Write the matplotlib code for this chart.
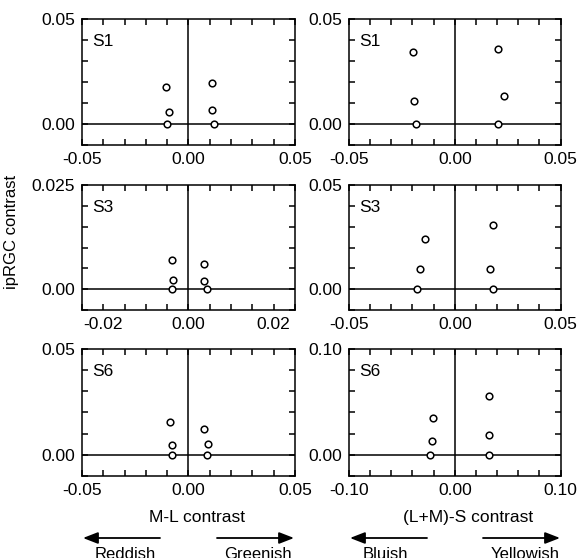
import numpy as np
import matplotlib
matplotlib.use('Agg')
import matplotlib.pyplot as plt
from matplotlib.patches import FancyArrowPatch

plt.rcParams['font.family'] = ['Liberation Sans', 'DejaVu Sans']

# Observers shown in each row
observers = ['S1', 'S3', 'S6']

# M-L contrast (left column) and ipRGC contrast, per observer
ml_x = [
    [-0.0104, -0.0091, -0.0099, 0.0110, 0.0110, 0.0118],
    [-0.0039, -0.0037, -0.0039, 0.0037, 0.0036, 0.0043],
    [-0.0088, -0.0075, -0.0075, 0.0071, 0.0091, 0.0085],
]
ml_y = [
    [0.0178, 0.0056, 0.0, 0.0197, 0.0068, 0.0],
    [0.0069, 0.0022, 0.0, 0.0061, 0.0020, 0.0],
    [0.0153, 0.0046, 0.0, 0.0124, 0.0053, 0.0],
]

# (L+M)-S contrast (right column) and ipRGC contrast, per observer
s_x = [
    [-0.0196, -0.0191, -0.0183, 0.0206, 0.0231, 0.0206],
    [-0.0141, -0.0163, -0.0180, 0.0179, 0.0166, 0.0179],
    [-0.0203, -0.0212, -0.0234, 0.0325, 0.0325, 0.0325],
]
s_y = [
    [0.0341, 0.0111, 0.0, 0.0359, 0.0133, 0.0],
    [0.0241, 0.0095, 0.0, 0.0310, 0.0095, 0.0],
    [0.0349, 0.0129, 0.0, 0.0560, 0.0189, 0.0],
]

# axis ranges: (lo, hi, tick step) ; labels only at listed values
ml_xlim = [(-0.05, 0.05, 0.01), (-0.025, 0.025, 0.005), (-0.05, 0.05, 0.01)]
ml_ylim = [(-0.01, 0.05, 0.01), (-0.005, 0.025, 0.005), (-0.01, 0.05, 0.01)]
ml_xlab = [[-0.05, 0.0, 0.05], [-0.02, 0.0, 0.02], [-0.05, 0.0, 0.05]]
ml_ylab = [[0.0, 0.05], [0.0, 0.025], [0.0, 0.05]]

s_xlim = [(-0.05, 0.05, 0.01), (-0.05, 0.05, 0.01), (-0.1, 0.1, 0.02)]
s_ylim = [(-0.01, 0.05, 0.01), (-0.01, 0.05, 0.01), (-0.02, 0.10, 0.02)]
s_xlab = [[-0.05, 0.0, 0.05], [-0.05, 0.0, 0.05], [-0.1, 0.0, 0.1]]
s_ylab = [[0.0, 0.05], [0.0, 0.05], [0.0, 0.10]]

# direction words under each x axis
dir_left = ['Reddish', 'Bluish']
dir_right = ['Greenish', 'Yellowish']


def fmt(v):
    if abs(v - round(v, 2)) > 1e-9:
        return '%.3f' % v
    return '%.2f' % v


def setup(ax, xlim, ylim, xlab, ylab):
    x0, x1, xs = xlim
    y0, y1, ys = ylim
    ax.set_xlim(x0, x1)
    ax.set_ylim(y0, y1)
    xt = np.round(np.arange(x0, x1 + xs / 2, xs), 4)
    yt = np.round(np.arange(y0, y1 + ys / 2, ys), 4)
    ax.set_xticks(xt)
    ax.set_yticks(yt)
    ax.set_xticklabels([fmt(t) if np.any(np.isclose(t, xlab)) else '' for t in xt])
    ax.set_yticklabels([fmt(t) if np.any(np.isclose(t, ylab)) else '' for t in yt])
    ax.tick_params(direction='in', top=True, right=True, length=4, width=1.1,
                   labelsize=12.5, pad=5)
    for sp in ax.spines.values():
        sp.set_linewidth(1.1)
    ax.axhline(0, color='black', lw=1.1, zorder=1)
    ax.axvline(0, color='black', lw=1.1, zorder=1)


fig = plt.figure(figsize=(5.88, 5.58), dpi=100)

left_x, right_x, w = 0.1395, 0.5935, 0.360
rows = [(0.740, 0.226), (0.4444, 0.224), (0.147, 0.2276)]

for i, (b, h) in enumerate(rows):
    axl = fig.add_axes([left_x, b, 0.362, h])
    setup(axl, ml_xlim[i], ml_ylim[i], ml_xlab[i], ml_ylab[i])
    axl.plot(ml_x[i], ml_y[i], 'o', mfc='white', mec='black', mew=1.1, ms=4.8, zorder=3)
    axl.text(0.05, 0.88, observers[i], transform=axl.transAxes, fontsize=12.5, va='top')

    axr = fig.add_axes([right_x, b, w, h])
    setup(axr, s_xlim[i], s_ylim[i], s_xlab[i], s_ylab[i])
    axr.plot(s_x[i], s_y[i], 'o', mfc='white', mec='black', mew=1.1, ms=4.8, zorder=3)
    axr.text(0.05, 0.88, observers[i], transform=axr.transAxes, fontsize=12.5, va='top')

fig.text(0.019, 0.585, 'ipRGC contrast', rotation=90, fontsize=12, ha='center', va='center')
fig.text(0.335, 0.073, 'M-L contrast', fontsize=12.5, ha='center', va='center')
fig.text(0.796, 0.073, '(L+M)-S contrast', fontsize=12.5, ha='center', va='center')

# direction arrows (pixel positions converted to figure fraction)
arrow_y = 1 - 538 / 558
for (xa, xb) in [(160, 83), (217, 294), (427, 350), (483, 560)]:
    fig.add_artist(FancyArrowPatch(
        (xa / 588, arrow_y), (xb / 588, arrow_y), transform=fig.transFigure,
        arrowstyle='-|>,head_length=0.9,head_width=0.35', mutation_scale=10,
        color='black', lw=1.3, shrinkA=0, shrinkB=0))

for k, (xl, xr) in enumerate([(125, 258), (385, 525)]):
    fig.text(xl / 588, 1 - 547 / 558, dir_left[k], fontsize=12, ha='center', va='top')
    fig.text(xr / 588, 1 - 547 / 558, dir_right[k], fontsize=12, ha='center', va='top')

fig.savefig('out.png', dpi=100)
